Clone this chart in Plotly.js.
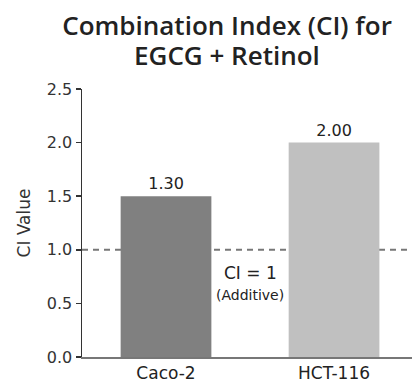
<!DOCTYPE html>
<html>
<head>
<meta charset="utf-8">
<script src="https://cdn.plot.ly/plotly-3.0.1.min.js"></script>
<style>
html,body{margin:0;padding:0;background:#fff;overflow:hidden;}
#chart{width:412px;height:389px;}
</style>
</head>
<body>
<div id="chart"></div>
<script>
const cellLines = ["Caco-2", "HCT-116"];
const ciValues = [1.5, 2.0];
const ciLabels = ["1.30", "2.00"];
const barColors = ["#808080", "#c0c0c0"];
const yTicks = [0, 0.5, 1.0, 1.5, 2.0, 2.5];
const yTickText = ["0.0", "0.5", "1.0", "1.5", "2.0", "2.5"];
const additiveThreshold = 1;
const titleLines = ["Combination Index (CI) for", "EGCG + Retinol"];

const TFONT = "Open Sans, sans-serif";
const FONT = "DejaVu Sans, sans-serif";

const trace = {
  type: "bar",
  x: cellLines,
  y: ciValues,
  text: ciLabels,
  textposition: "outside",
  texttemplate: "%{text}",
  textfont: {family: FONT, size: 16, color: "#222"},
  marker: {color: barColors, line: {width: 0}},
  width: 0.54,
  cliponaxis: false,
  hoverinfo: "skip"
};

const layout = {
  width: 412,
  height: 389,
  margin: {l: 82, r: 0, t: 89, b: 32},
  paper_bgcolor: "#ffffff",
  plot_bgcolor: "#ffffff",
  showlegend: false,
  font: {family: FONT, color: "#333"},
  title: {
    text: titleLines[0],
    font: {family: TFONT, size: 26, weight: 600, color: "#222"},
    x: 0.551, xref: "container", xanchor: "center",
    y: 1 - 26 / 389, yref: "container", yanchor: "middle"
  },
  xaxis: {
    type: "category",
    range: [-0.5, 1.464],
    showline: true,
    linecolor: "#777",
    linewidth: 2,
    ticks: "",
    showgrid: false,
    zeroline: false,
    tickfont: {family: FONT, size: 17, color: "#222"},
    fixedrange: true
  },
  yaxis: {
    range: [0, 2.5],
    tickvals: yTicks,
    ticktext: yTickText,
    showline: true,
    linecolor: "#333",
    linewidth: 1.5,
    ticks: "outside",
    ticklen: 5,
    tickwidth: 1.5,
    tickcolor: "#333",
    showgrid: false,
    zeroline: false,
    tickfont: {family: FONT, size: 16, color: "#333"},
    title: {text: "CI Value", font: {family: FONT, size: 17, color: "#333"}, standoff: 12},
    fixedrange: true
  },
  shapes: [{
    type: "line",
    xref: "paper", x0: 0, x1: 1,
    yref: "y", y0: additiveThreshold, y1: additiveThreshold,
    line: {color: "#777", width: 2, dash: "6px,5px"},
    layer: "below"
  }],
  annotations: [
    {x: (227 - 82) / 330, y: (357 - 56) / 267.5, xref: "paper", yref: "paper",
     text: titleLines[1], showarrow: false,
     font: {family: TFONT, size: 26, weight: 600, color: "#222"}, xanchor: "center", yanchor: "middle"},
    {x: 0.5, y: 0.78, xref: "x", yref: "y", text: "CI = 1", showarrow: false,
     font: {family: FONT, size: 17, color: "#222"}, xanchor: "center", yanchor: "middle"},
    {x: 0.5, y: 0.58, xref: "x", yref: "y", text: "(Additive)", showarrow: false,
     font: {family: FONT, size: 14, color: "#222"}, xanchor: "center", yanchor: "middle"}
  ]
};

Plotly.newPlot("chart", [trace], layout, {displayModeBar: false, staticPlot: true});
</script>
</body>
</html>
